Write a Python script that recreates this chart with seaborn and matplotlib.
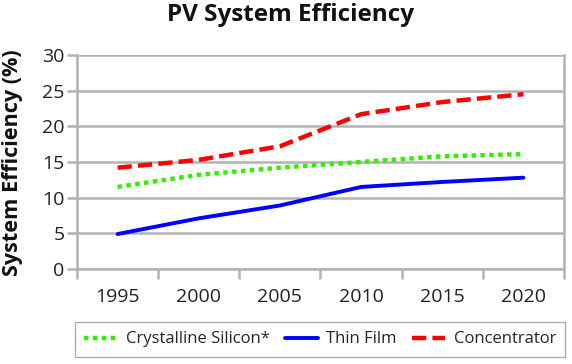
import matplotlib
matplotlib.use("Agg")
import matplotlib.pyplot as plt
import seaborn as sns
import pandas as pd

years = ["1995", "2000", "2005", "2010", "2015", "2020"]
crystalline = [11.5, 13.2, 14.2, 15.0, 15.8, 16.1]
thin_film = [4.9, 7.1, 8.9, 11.5, 12.2, 12.8]
concentrator = [14.2, 15.3, 17.2, 21.7, 23.4, 24.5]
y_ticks = [0, 5, 10, 15, 20, 25, 30]

sns.set_theme(style="white")
plt.rcParams['font.family'] = ['Open Sans', 'DejaVu Sans']

fig = plt.figure(figsize=(5.72, 3.64), dpi=100)
ax = fig.add_axes([0.1346, 0.261, 0.8514, 0.588])

df = pd.DataFrame({"Year": years, "Crystalline Silicon*": crystalline,
                   "Thin Film": thin_film, "Concentrator": concentrator})

sns.lineplot(data=df, x="Year", y="Crystalline Silicon*", ax=ax, color="#33ee00",
             linewidth=3.2, label="Crystalline Silicon*", sort=False)
sns.lineplot(data=df, x="Year", y="Thin Film", ax=ax, color="#0000ff",
             linewidth=2.8, label="Thin Film", sort=False)
sns.lineplot(data=df, x="Year", y="Concentrator", ax=ax, color="#ff0000",
             linewidth=3.2, label="Concentrator", sort=False)
lines = ax.get_lines()
lines[0].set_dashes([1.0, 1.0])
lines[0].set_dash_capstyle("butt")
lines[2].set_dashes([3.2, 1.4])

ax.set_xlim(-0.5, len(years) - 0.5)
ax.set_ylim(0, 30)
ax.set_yticks(y_ticks)
ax.set_xticks([i - 0.5 for i in range(len(years) + 1)])
ax.set_xticklabels([])
ax.set_xticks(range(len(years)), minor=True)
ax.set_xticklabels(years, minor=True)
ax.tick_params(axis="x", which="major", length=7, width=1.8, color="#b3b3b3", direction="out", bottom=True)
ax.tick_params(axis="x", which="minor", length=0, pad=14, labelsize=14, labelcolor="#222222")
ax.tick_params(axis="y", length=7, width=1.8, color="#b3b3b3", direction="out", left=True,
               labelsize=14, labelcolor="#222222", pad=2)
ax.grid(axis="y", color="#b3b3b3", linewidth=1.8)
ax.set_axisbelow(True)
for s in ["left", "bottom", "right"]:
    ax.spines[s].set_visible(True)
    ax.spines[s].set_color("#b3b3b3")
    ax.spines[s].set_linewidth(1.8)
ax.spines["top"].set_visible(False)

ax.set_xlabel("")
ax.set_ylabel("")
fig.text(0.004, 0.554, "System Efficiency (%)", rotation=90, fontsize=15.6, fontweight="bold",
         ha="left", va="center", color="#111111")
fig.text(0.507, 0.992, "PV System Efficiency", fontsize=17.5, fontweight="bold",
         ha="center", va="top", color="#111111")

leg = ax.legend(loc="upper left", bbox_to_anchor=(0.131, 0.0165, 0.857, 0.098),
                bbox_transform=fig.transFigure, mode="expand", borderaxespad=0,
                ncol=3, frameon=True, fancybox=False, edgecolor="#999999", fontsize=12,
                handlelength=2.0, handletextpad=0.5, borderpad=0.55)
leg.get_frame().set_linewidth(1.0)

fig.savefig("out.png", dpi=100)
